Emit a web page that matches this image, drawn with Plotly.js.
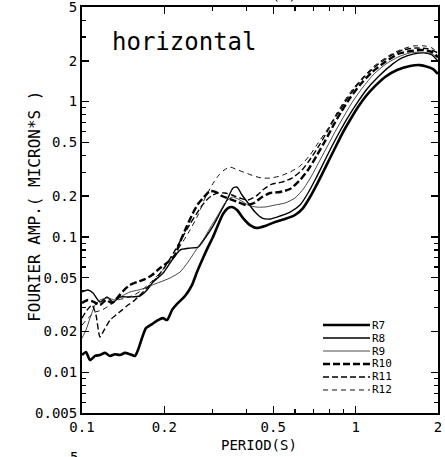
<!DOCTYPE html>
<html>
<head>
<meta charset="utf-8">
<script src="https://cdn.plot.ly/plotly-3.0.1.min.js"></script>
<style>
html,body{margin:0;padding:0;background:#fff;}
#chart{width:445px;height:457px;}
</style>
</head>
<body>
<div id="chart"></div>
<script>
// ---- data (period in s, Fourier amplitude in micron*s) ----
const seriesNames = ['R7', 'R8', 'R9', 'R10', 'R11', 'R12'];

const r7Period = [0.1,0.1034,0.107,0.1116,0.1163,0.1214,0.1266,0.132,0.1377,0.1436,0.1497,0.1562,0.1602,0.1657,0.1713,0.1803,0.1896,0.1978,0.2045,0.2133,0.2243,0.2379,0.2523,0.2632,0.2769,0.2887,0.3011,0.3141,0.3276,0.3417,0.3534,0.3686,0.3877,0.4111,0.4362,0.4666,0.5076,0.5521,0.6006,0.6424,0.6813,0.7289,0.7796,0.8339,0.8919,0.954,1.0205,1.0914,1.1771,1.2813,1.4168,1.5805,1.7195,1.839,1.918,2.0];
const r7Amp = [0.0134,0.0141,0.0123,0.0132,0.0134,0.0139,0.0132,0.0136,0.0134,0.0139,0.0136,0.0132,0.0146,0.0179,0.0212,0.0227,0.0243,0.0251,0.0243,0.0288,0.0325,0.0366,0.0441,0.055,0.0698,0.0841,0.0998,0.1224,0.1476,0.1635,0.1663,0.158,0.1379,0.1224,0.1163,0.1203,0.1288,0.1356,0.1452,0.1635,0.1972,0.2544,0.334,0.439,0.576,0.731,0.912,1.10,1.30,1.52,1.71,1.83,1.86,1.80,1.74,1.60];

const r8Period = [0.1,0.1052,0.1097,0.1163,0.1234,0.1298,0.1377,0.1497,0.1629,0.1728,0.1818,0.1978,0.2097,0.2281,0.2481,0.2655,0.2816,0.3011,0.3194,0.3388,0.3564,0.3686,0.3844,0.4044,0.4289,0.455,0.4866,0.5294,0.5758,0.6264,0.6699,0.7167,0.7666,0.8199,0.877,0.9381,1.0118,1.1007,1.2072,1.3362,1.4777,1.6348,1.7783,1.9019,2.0];
const r8Amp = [0.0392,0.0405,0.0385,0.033,0.036,0.033,0.036,0.036,0.0366,0.0405,0.0464,0.0541,0.0641,0.08,0.0827,0.0841,0.0982,0.1203,0.1502,0.1874,0.2298,0.2337,0.204,0.1781,0.1527,0.1379,0.1356,0.1427,0.1527,0.1721,0.2111,0.2723,0.358,0.47,0.606,0.769,0.976,1.24,1.52,1.83,2.10,2.25,2.29,2.21,1.99];

const r9Period = [0.1,0.1034,0.107,0.1116,0.1163,0.1245,0.132,0.14,0.1497,0.1602,0.1699,0.1803,0.1928,0.2097,0.2281,0.244,0.261,0.2769,0.2936,0.3141,0.3332,0.3534,0.378,0.4044,0.4325,0.4666,0.5076,0.5521,0.6006,0.6479,0.6929,0.7413,0.7929,0.8481,0.9071,0.9784,1.0641,1.1673,1.292,1.4289,1.5805,1.7487,1.9019,2.0];
const r9Amp = [0.0179,0.0205,0.0251,0.0314,0.0342,0.0354,0.0342,0.0366,0.0392,0.0405,0.0419,0.0441,0.0464,0.0497,0.055,0.0652,0.08,0.0948,0.1163,0.1452,0.1781,0.1972,0.1874,0.1721,0.1663,0.1663,0.1721,0.1781,0.1939,0.2298,0.2866,0.37,0.4775,0.617,0.782,1.01,1.28,1.60,1.90,2.135,2.29,2.32,2.25,2.10];

const r10Period = [0.1,0.1052,0.1106,0.1163,0.1224,0.1287,0.1354,0.1424,0.1497,0.1589,0.1699,0.1803,0.1928,0.2062,0.2187,0.2281,0.2399,0.2523,0.2655,0.2792,0.2936,0.3088,0.3248,0.3475,0.3717,0.3976,0.4253,0.455,0.4866,0.5294,0.5758,0.6264,0.6699,0.7227,0.7731,0.8269,0.8844,0.954,1.0378,1.1478,1.2813,1.4289,1.5805,1.7487,1.9019,2.0];
const r10Amp = [0.0325,0.0342,0.033,0.0314,0.0342,0.0325,0.036,0.0405,0.0441,0.0464,0.0488,0.0523,0.0589,0.0652,0.0734,0.0916,0.1163,0.1452,0.1751,0.1972,0.2184,0.2147,0.2005,0.1906,0.1811,0.1721,0.1781,0.1972,0.2111,0.2147,0.2259,0.2632,0.312,0.403,0.511,0.66,0.837,1.063,1.33,1.65,1.96,2.25,2.36,2.41,2.32,2.135];

const r11Period = [0.1,0.1043,0.1088,0.1125,0.1163,0.1204,0.1266,0.1331,0.14,0.1473,0.1562,0.1657,0.1772,0.1896,0.2028,0.2169,0.232,0.2481,0.2632,0.2792,0.2961,0.3141,0.3332,0.3534,0.378,0.4044,0.4325,0.4627,0.4949,0.5383,0.5856,0.637,0.6871,0.7413,0.7929,0.8481,0.9148,0.9867,1.0823,1.197,1.3362,1.4902,1.6626,1.839,2.0];
const r11Amp = [0.0251,0.0288,0.0314,0.0265,0.0182,0.0205,0.0243,0.0265,0.0288,0.0314,0.0342,0.0385,0.0441,0.0514,0.062,0.0773,0.0982,0.1245,0.1502,0.1781,0.2005,0.2111,0.2111,0.204,0.1939,0.1874,0.2005,0.2259,0.2459,0.2544,0.2723,0.312,0.383,0.486,0.617,0.782,0.993,1.24,1.545,1.86,2.17,2.41,2.49,2.45,2.29];

const r12Period = [0.1,0.1052,0.1116,0.1183,0.1266,0.1354,0.1448,0.1549,0.1657,0.1772,0.1896,0.2028,0.2169,0.232,0.2481,0.2655,0.2816,0.2986,0.3141,0.3304,0.3475,0.3717,0.3976,0.4253,0.455,0.4866,0.5294,0.5758,0.6264,0.6813,0.7289,0.7862,0.8409,0.8995,0.9701,1.0554,1.1673,1.3139,1.4531,1.621,1.7933,1.9019,2.0];
const r12Amp = [0.0223,0.0251,0.0278,0.0288,0.0314,0.0342,0.0354,0.0372,0.0405,0.0456,0.0523,0.0609,0.0734,0.09,0.1124,0.1452,0.1939,0.2417,0.2817,0.312,0.328,0.312,0.2965,0.2817,0.2723,0.2723,0.2817,0.302,0.334,0.403,0.494,0.617,0.782,0.976,1.22,1.49,1.83,2.17,2.41,2.575,2.575,2.49,2.29];

const xTickVals = [0.1, 0.2, 0.5, 1, 2];
const xTickText = ['0.1', '0.2', '0.5', '1', '2'];
const xMinorVals = [0.3, 0.4, 0.6, 0.7, 0.8, 0.9];
const yTickVals = [0.005, 0.01, 0.02, 0.05, 0.1, 0.2, 0.5, 1, 2, 5];
const yTickText = ['0.005', '0.01', '0.02', '0.05', '0.1', '0.2', '0.5', '1', '2', '5'];
const yMinorVals = [0.006, 0.007, 0.008, 0.009, 0.03, 0.04, 0.06, 0.07, 0.08, 0.09, 0.3, 0.4, 0.6, 0.7, 0.8, 0.9, 3, 4];

// ---- styles (not data) ----
const lineStyles = [
  {width: 2.6, dash: 'solid', color: '#000'},
  {width: 1.4, dash: 'solid', color: '#000'},
  {width: 0.9, dash: 'solid', color: '#333'},
  {width: 2.4, dash: '7px,3px', color: '#000'},
  {width: 1.4, dash: '6px,3px', color: '#000'},
  {width: 1.0, dash: '5px,4px', color: '#111'}
];

const periods = [r7Period, r8Period, r9Period, r10Period, r11Period, r12Period];
const amps = [r7Amp, r8Amp, r9Amp, r10Amp, r11Amp, r12Amp];

const FONT = 'DejaVu Sans Mono, Liberation Mono, monospace';

const traces = seriesNames.map((name, i) => ({
  type: 'scatter',
  mode: 'lines',
  name: name,
  x: periods[i],
  y: amps[i],
  line: {color: lineStyles[i].color, width: lineStyles[i].width, dash: lineStyles[i].dash, shape: 'spline', smoothing: 0.6},
  showlegend: false,
  hoverinfo: 'skip'
}));

// custom compact legend (drawn in paper coordinates)
const legX0 = 0.677, legX1 = 0.809, legTop = 0.2167, legStep = 0.032;
const shapes = [];
const annotations = [];
seriesNames.forEach((name, i) => {
  const yy = legTop - i * legStep;
  shapes.push({type: 'line', xref: 'paper', yref: 'paper', x0: legX0, x1: legX1, y0: yy, y1: yy,
    line: {color: lineStyles[i].color, width: lineStyles[i].width, dash: lineStyles[i].dash}});
  annotations.push({xref: 'paper', yref: 'paper', x: legX1 + 0.002, y: yy, xanchor: 'left', yanchor: 'middle',
    text: name, showarrow: false, borderpad: 0, font: {family: FONT, size: 11, color: '#000'}});
});

annotations.push({xref: 'paper', yref: 'paper', x: 0.287, y: 0.915, xanchor: 'center', yanchor: 'middle',
  text: 'horizontal', showarrow: false, font: {family: FONT, size: 24, color: '#000'}});
annotations.push({xref: 'paper', yref: 'paper', x: -0.132, y: 0.508, xanchor: 'center', yanchor: 'middle',
  textangle: -90, text: 'FOURIER AMP.( MICRON*S )', showarrow: false, font: {family: FONT, size: 16, color: '#000'}});
annotations.push({xref: 'paper', yref: 'paper', x: 0.497, y: -0.079, xanchor: 'center', yanchor: 'middle',
  text: 'PERIOD(S)', showarrow: false, font: {family: FONT, size: 14, color: '#000'}});
// fragments of neighbouring panels cut by the image edges
annotations.push({xref: 'paper', yref: 'paper', x: 0.497, y: 1.004, xanchor: 'center', yanchor: 'bottom',
  text: 'PERIOD(S)', showarrow: false, font: {family: FONT, size: 14, color: '#000'}});
annotations.push({xref: 'paper', yref: 'paper', x: -0.022, y: -0.083, xanchor: 'center', yanchor: 'top',
  text: '5', showarrow: false, font: {family: FONT, size: 14, color: '#000'}});

const axisCommon = {
  type: 'log',
  showgrid: false,
  zeroline: false,
  showline: true,
  linecolor: '#000',
  linewidth: 2,
  mirror: 'ticks',
  ticks: 'inside',
  ticklen: 7,
  tickwidth: 1.5,
  tickcolor: '#000',
  tickmode: 'array',
  ticklabeloverflow: 'allow',
  tickfont: {family: FONT, size: 14, color: '#000'}
};

const layout = {
  width: 445,
  height: 457,
  margin: {l: 82, r: 7, t: 7, b: 44},
  paper_bgcolor: '#fff',
  plot_bgcolor: '#fff',
  showlegend: false,
  xaxis: Object.assign({}, axisCommon, {
    range: [Math.log10(0.1) - 1e-5, Math.log10(2) + 1e-5],
    tickvals: xTickVals,
    ticktext: xTickText,
    minor: {tickmode: 'array', tickvals: xMinorVals, ticks: 'inside', ticklen: 4, tickwidth: 1.2, tickcolor: '#000', showgrid: false}
  }),
  yaxis: Object.assign({}, axisCommon, {
    range: [Math.log10(0.005) - 1e-5, Math.log10(5) + 1e-5],
    tickvals: yTickVals,
    ticktext: yTickText,
    minor: {tickmode: 'array', tickvals: yMinorVals, ticks: 'inside', ticklen: 4, tickwidth: 1.2, tickcolor: '#000', showgrid: false}
  }),
  shapes: shapes,
  annotations: annotations
};

Plotly.newPlot('chart', traces, layout, {staticPlot: true, displayModeBar: false});
</script>
</body>
</html>
